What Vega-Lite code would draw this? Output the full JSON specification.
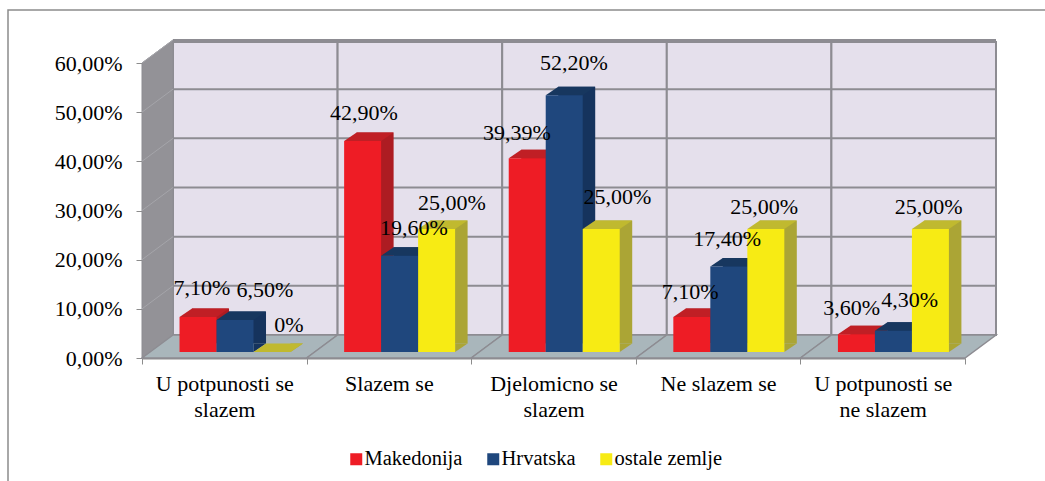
{
"$schema":"https://vega.github.io/schema/vega-lite/v6.json",
"width":1040,"height":474,
"autosize":{"type":"none"},
"padding":{"left":8,"top":10,"right":-3,"bottom":-3},
"background":"white",
"view":{"stroke":"#8c8c8c","strokeWidth":1.5,"fill":"white"},
"config":{"font":"Liberation Serif"},
"datasets":{
"bars":[
{"n":1,"category":"U potpunosti se slazem","series":"Makedonija","value":7.1,"label":"7,10%"},
{"n":2,"category":"U potpunosti se slazem","series":"Hrvatska","value":6.5,"label":"6,50%"},
{"n":3,"category":"U potpunosti se slazem","series":"ostale zemlje","value":0,"label":"0%"},
{"n":4,"category":"Slazem se","series":"Makedonija","value":42.9,"label":"42,90%"},
{"n":5,"category":"Slazem se","series":"Hrvatska","value":19.6,"label":"19,60%"},
{"n":6,"category":"Slazem se","series":"ostale zemlje","value":25,"label":"25,00%"},
{"n":7,"category":"Djelomicno se slazem","series":"Makedonija","value":39.39,"label":"39,39%"},
{"n":8,"category":"Djelomicno se slazem","series":"Hrvatska","value":52.2,"label":"52,20%"},
{"n":9,"category":"Djelomicno se slazem","series":"ostale zemlje","value":25,"label":"25,00%"},
{"n":10,"category":"Ne slazem se","series":"Makedonija","value":7.1,"label":"7,10%"},
{"n":11,"category":"Ne slazem se","series":"Hrvatska","value":17.4,"label":"17,40%"},
{"n":12,"category":"Ne slazem se","series":"ostale zemlje","value":25,"label":"25,00%"},
{"n":13,"category":"U potpunosti se ne slazem","series":"Makedonija","value":3.6,"label":"3,60%"},
{"n":14,"category":"U potpunosti se ne slazem","series":"Hrvatska","value":4.3,"label":"4,30%"},
{"n":15,"category":"U potpunosti se ne slazem","series":"ostale zemlje","value":25,"label":"25,00%"}
],
"cats":[
{"category":"U potpunosti se slazem"},{"category":"Slazem se"},{"category":"Djelomicno se slazem"},{"category":"Ne slazem se"},{"category":"U potpunosti se ne slazem"}
],
"ticks":[{"category":"U potpunosti se slazem","tick":0},{"category":"U potpunosti se slazem","tick":10},{"category":"U potpunosti se slazem","tick":20},{"category":"U potpunosti se slazem","tick":30},{"category":"U potpunosti se slazem","tick":40},{"category":"U potpunosti se slazem","tick":50},{"category":"U potpunosti se slazem","tick":60}]
},
"layer":[
{"data":{"name":"cats"},
 "mark":{"type":"point","shape":"M0,0 L164.6,0 L164.6,-293 L0,-293 Z","size":4,"filled":true,"fill":"#e5e0ec","stroke":"#8d8c92","strokeWidth":2,"opacity":1,"xOffset":31,"yOffset":-23},
 "encoding":{
  "x":{"field":"category","type":"nominal","bandPosition":0,"sort":null,
   "scale":{"range":[134,957],"paddingInner":0,"paddingOuter":0},
   "axis":{"title":null,"labelAngle":0,"tickBand":"extent","offset":-126,"labelFontSize":22,"labelFont":"Liberation Serif","labelColor":"black","labelPadding":9,"labelLineHeight":26,"labelBaseline":"top","tickColor":"#8c8c8c","domainColor":"#8c8c8c","tickSize":6,"domainWidth":2,"labelOverlap":false,"labelExpr":"datum.label=='U potpunosti se slazem'?['U potpunosti se','slazem']:datum.label=='Djelomicno se slazem'?['Djelomicno se','slazem']:datum.label=='U potpunosti se ne slazem'?['U potpunosti se','ne slazem']:datum.label"}},
  "y":{"datum":0,"type":"quantitative",
   "scale":{"domain":[0,60],"range":[348,53]},
   "axis":{"title":null,"grid":false,"values":[0,10,20,30,40,50,60],"offset":-134,"labelFontSize":22,"labelFont":"Liberation Serif","labelColor":"black","labelPadding":14,"tickColor":"#8c8c8c","domainColor":"#8c8c8c","tickSize":6,"labelExpr":"replace(format(datum.value,'.2f'),'.',',')+'%'"}}
 }},
{"data":{"name":"ticks"},
 "mark":{"type":"point","shape":"M0,0 L823,0","size":4,"filled":false,"stroke":"#8d8c92","strokeWidth":2,"opacity":1,"xOffset":31,"yOffset":-23},
 "encoding":{"x":{"field":"category","type":"nominal","bandPosition":0,"sort":null},"y":{"field":"tick","type":"quantitative"}}},
{"data":{"values":[{"category":"U potpunosti se slazem"}]},
 "mark":{"type":"point","shape":"M0,0 L0,-295 L31,-318 L31,-23 Z","size":4,"filled":true,"fill":"#939297","stroke":"#8d8c92","strokeWidth":1,"opacity":1},
 "encoding":{"x":{"field":"category","type":"nominal","bandPosition":0,"sort":null},"y":{"datum":0,"type":"quantitative"}}},
{"data":{"name":"ticks"},
 "mark":{"type":"point","shape":"M0,0 L31,-23","size":4,"filled":false,"stroke":"#a5a5aa","strokeWidth":1,"opacity":1},
 "encoding":{"x":{"field":"category","type":"nominal","bandPosition":0,"sort":null},"y":{"field":"tick","type":"quantitative"}}},
{"data":{"name":"cats"},
 "mark":{"type":"point","shape":"M0,0 L31,-23 L195.6,-23 L164.6,0 Z","size":4,"filled":true,"fill":"#a9b6bb","stroke":"#8d8c92","strokeWidth":1.5,"opacity":1},
 "encoding":{"x":{"field":"category","type":"nominal","bandPosition":0,"sort":null},"y":{"datum":0,"type":"quantitative"}}},
{"data":{"name":"bars"},
 "mark":{"type":"bar","yOffset":-14.5,"y2Offset":-14.5},
 "encoding":{"x":{"field":"category","type":"nominal","sort":null},
  "xOffset":{"field":"series","type":"nominal","sort":null,"scale":{"type":"band","domain":["Makedonija","Hrvatska","ostale zemlje"],"paddingInner":0,"paddingOuter":0.7246,"align":0.933}},
  "y":{"field":"value","type":"quantitative","stack":null},"y2":{"datum":0},
  "color":{"field":"series","type":"nominal","legend":null,"scale":{"domain":["Makedonija","Hrvatska","ostale zemlje"],"range":["#ad1c22","#15335d","#aba535"]}}}},
{"data":{"name":"bars"},
 "mark":{"type":"point","shape":"M18.5,0 L31,-8.5 L18.5,-8.5 Z","size":4,"filled":true,"opacity":1,"yOffset":-6},
 "encoding":{"x":{"field":"category","type":"nominal","sort":null},
  "xOffset":{"field":"series","type":"nominal","sort":null,"scale":{"type":"band","domain":["Makedonija","Hrvatska","ostale zemlje"],"paddingInner":0,"paddingOuter":0.7246,"align":0.7}},
  "y":{"datum":0,"type":"quantitative"},
  "color":{"field":"series","type":"nominal","legend":null,"scale":{"domain":["Makedonija","Hrvatska","ostale zemlje"],"range":["#ad1c22","#15335d","#aba535"]}}}},
{"data":{"name":"bars"},
 "mark":{"type":"point","shape":"M-18.5,0 L-6,-8.5 L31,-8.5 L18.5,0 Z","size":4,"filled":true,"opacity":1,"yOffset":-6},
 "encoding":{"x":{"field":"category","type":"nominal","sort":null},
  "xOffset":{"field":"series","type":"nominal","sort":null,"scale":{"type":"band","domain":["Makedonija","Hrvatska","ostale zemlje"],"paddingInner":0,"paddingOuter":0.7246,"align":0.7}},
  "y":{"field":"value","type":"quantitative"},
  "color":{"field":"series","type":"nominal","legend":null,"scale":{"domain":["Makedonija","Hrvatska","ostale zemlje"],"range":["#c01f25","#17375f","#c0b92f"]}}}},
{"data":{"name":"bars"},
 "mark":{"type":"bar","yOffset":-6,"y2Offset":-6},
 "encoding":{"x":{"field":"category","type":"nominal","sort":null},
  "xOffset":{"field":"series","type":"nominal","sort":null,"scale":{"type":"band","domain":["Makedonija","Hrvatska","ostale zemlje"],"paddingInner":0,"paddingOuter":0.7246,"align":0.7}},
  "y":{"field":"value","type":"quantitative","stack":null},"y2":{"datum":0},
  "color":{"field":"series","type":"nominal","scale":{"domain":["Makedonija","Hrvatska","ostale zemlje"],"range":["#ee1c25","#1f477d","#f7eb14"]},
   "legend":{"title":null,"orient":"none","legendX":338,"legendY":439,"direction":"horizontal","symbolType":"square","symbolSize":144,"symbolStrokeWidth":0,"labelFontSize":20.5,"labelFont":"Liberation Serif","labelColor":"black","labelOffset":-2,"columnPadding":20,"gridAlign":"none"}}}},
{"data":{"name":"bars"},
 "encoding":{"x":{"field":"category","type":"nominal","sort":null},
  "xOffset":{"field":"series","type":"nominal","sort":null,"scale":{"type":"band","domain":["Makedonija","Hrvatska","ostale zemlje"],"paddingInner":0,"paddingOuter":0.7246,"align":0.7}},
  "y":{"field":"value","type":"quantitative"},
  "text":{"field":"label"}},
 "layer":[
 {"transform":[{"filter":"datum.n==1"}],"mark":{"type":"text","fontSize":22,"font":"Liberation Serif","color":"black","baseline":"alphabetic","dx":4,"dy":-28}},
 {"transform":[{"filter":"datum.n==2"}],"mark":{"type":"text","fontSize":22,"font":"Liberation Serif","color":"black","baseline":"alphabetic","dx":30,"dy":-29}},
 {"transform":[{"filter":"datum.n==3"}],"mark":{"type":"text","fontSize":22,"font":"Liberation Serif","color":"black","baseline":"alphabetic","dx":17,"dy":-26}},
 {"transform":[{"filter":"datum.n==4"}],"mark":{"type":"text","fontSize":22,"font":"Liberation Serif","color":"black","baseline":"alphabetic","dx":1.3,"dy":-27}},
 {"transform":[{"filter":"datum.n==5"}],"mark":{"type":"text","fontSize":22,"font":"Liberation Serif","color":"black","baseline":"alphabetic","dx":14.3,"dy":-27}},
 {"transform":[{"filter":"datum.n==6"}],"mark":{"type":"text","fontSize":22,"font":"Liberation Serif","color":"black","baseline":"alphabetic","dx":15.3,"dy":-25}},
 {"transform":[{"filter":"datum.n==7"}],"mark":{"type":"text","fontSize":22,"font":"Liberation Serif","color":"black","baseline":"alphabetic","dx":-10.2,"dy":-24}},
 {"transform":[{"filter":"datum.n==8"}],"mark":{"type":"text","fontSize":22,"font":"Liberation Serif","color":"black","baseline":"alphabetic","dx":9.8,"dy":-31}},
 {"transform":[{"filter":"datum.n==9"}],"mark":{"type":"text","fontSize":22,"font":"Liberation Serif","color":"black","baseline":"alphabetic","dx":16.3,"dy":-31}},
 {"transform":[{"filter":"datum.n==10"}],"mark":{"type":"text","fontSize":22,"font":"Liberation Serif","color":"black","baseline":"alphabetic","dx":-1.7,"dy":-24}},
 {"transform":[{"filter":"datum.n==11"}],"mark":{"type":"text","fontSize":22,"font":"Liberation Serif","color":"black","baseline":"alphabetic","dx":-1.7,"dy":-26}},
 {"transform":[{"filter":"datum.n==12"}],"mark":{"type":"text","fontSize":22,"font":"Liberation Serif","color":"black","baseline":"alphabetic","dx":-1.7,"dy":-21}},
 {"transform":[{"filter":"datum.n==13"}],"mark":{"type":"text","fontSize":22,"font":"Liberation Serif","color":"black","baseline":"alphabetic","dx":-4.7,"dy":-25}},
 {"transform":[{"filter":"datum.n==14"}],"mark":{"type":"text","fontSize":22,"font":"Liberation Serif","color":"black","baseline":"alphabetic","dx":16.3,"dy":-30}},
 {"transform":[{"filter":"datum.n==15"}],"mark":{"type":"text","fontSize":22,"font":"Liberation Serif","color":"black","baseline":"alphabetic","dx":-1.7,"dy":-21}}
 ]}
],
"resolve":{"scale":{"color":"independent","xOffset":"independent"}}
}
